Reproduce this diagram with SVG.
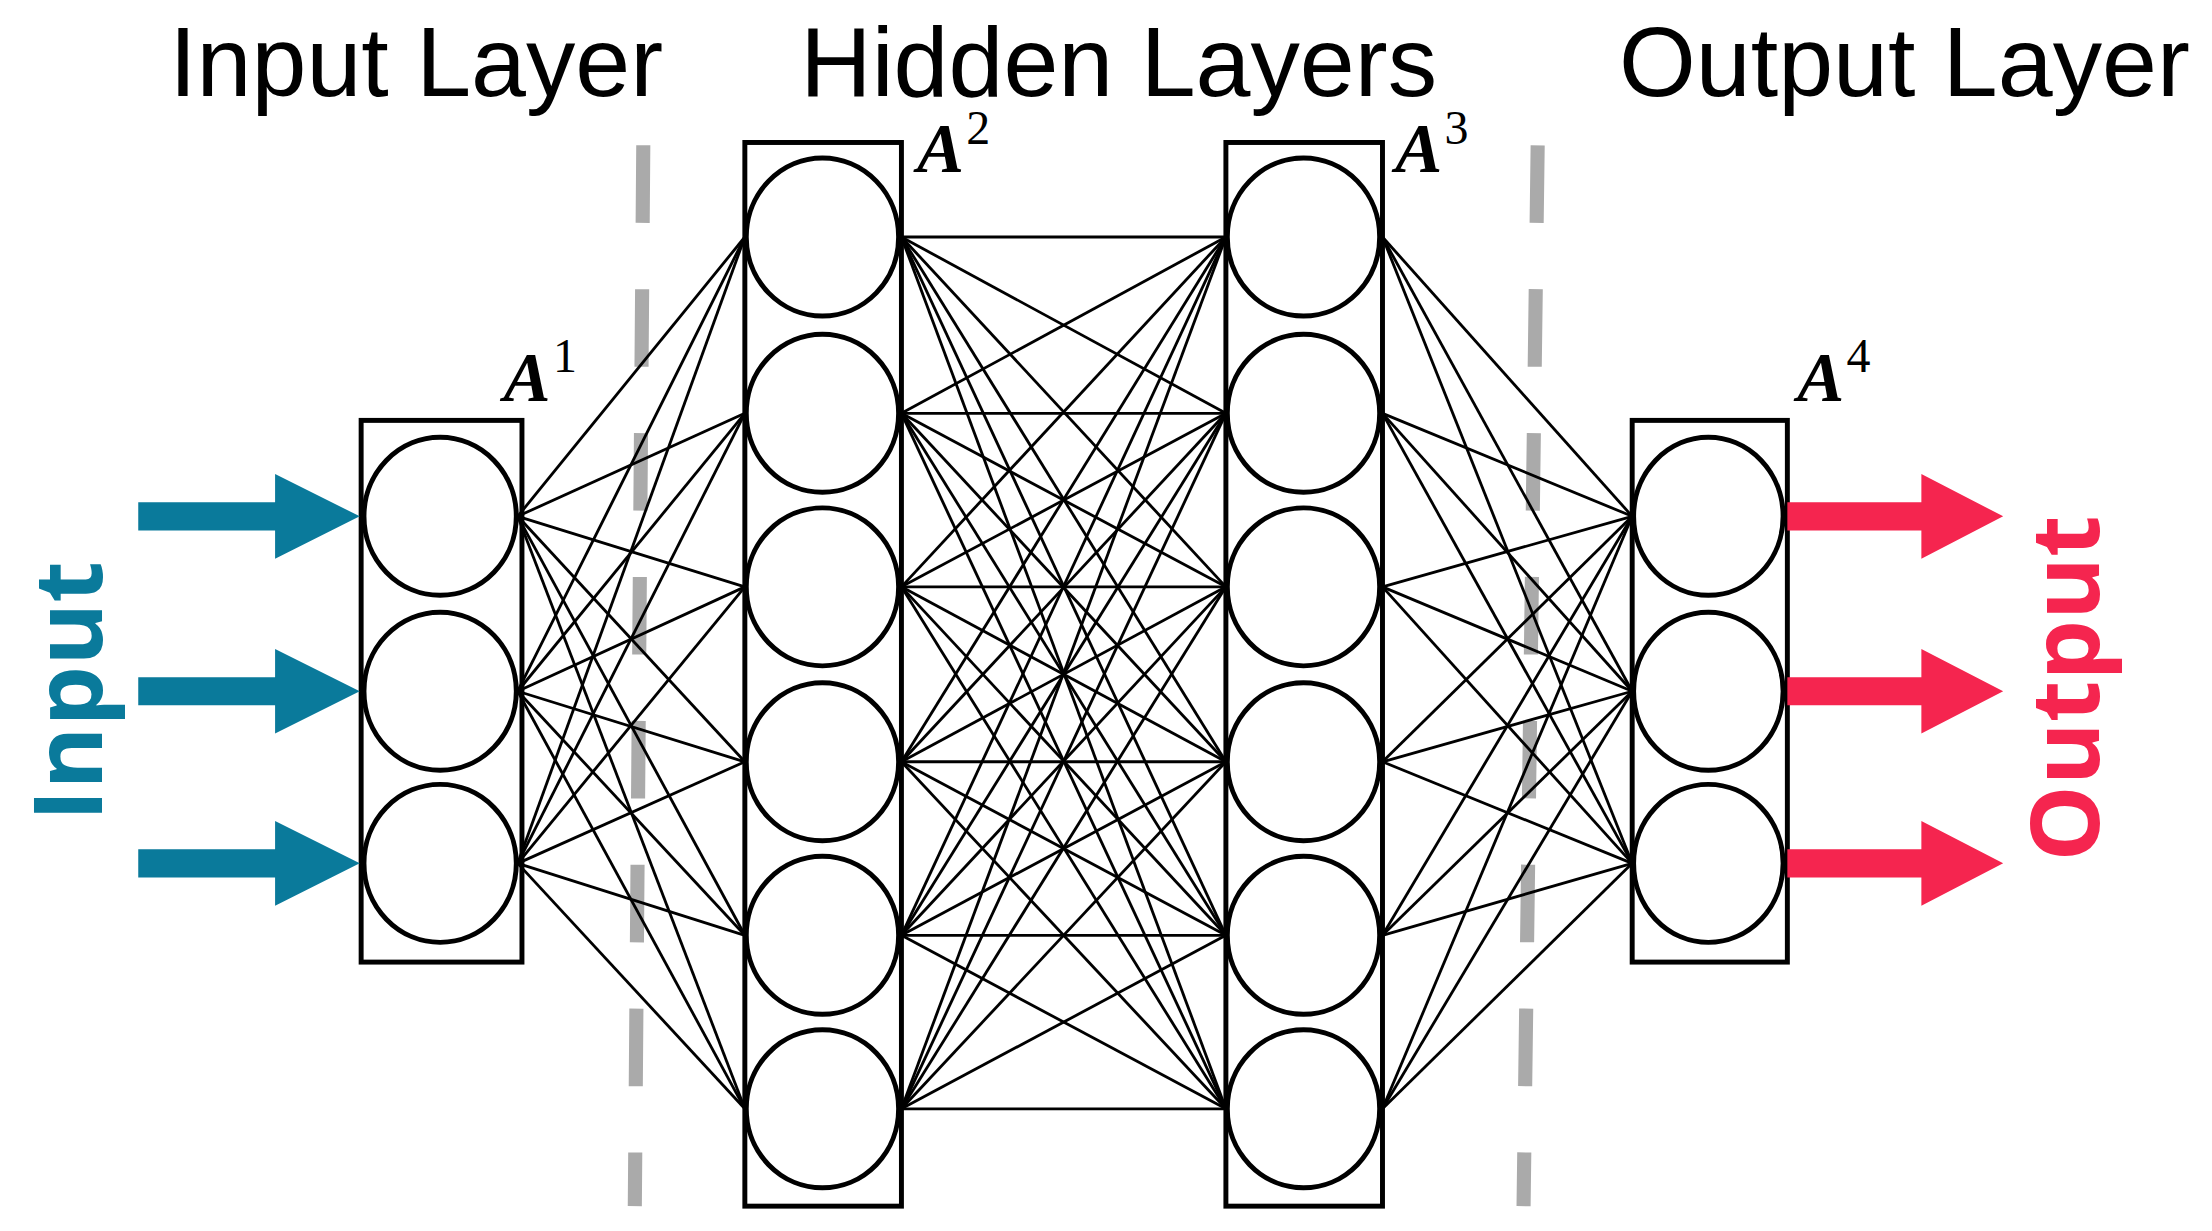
<svg xmlns="http://www.w3.org/2000/svg" width="2212" height="1231" viewBox="0 0 2212 1231">
<style>
.box{fill:none;stroke:#000;stroke-width:3.5}
.n{fill:#fff;stroke:#000;stroke-width:3.5}
.c line{stroke:#000;stroke-width:2}
.t{font-family:"Liberation Sans",Arial,sans-serif;font-size:70px;fill:#000}
.lab{font-family:"Liberation Serif",serif;font-weight:bold;font-style:italic;font-size:50px}
.sup{font-family:"Liberation Serif",serif;font-size:34px}
.dash{stroke:#aaa;stroke-width:10;stroke-dasharray:55 47;fill:none}
.in{fill:#0a7a9b}
.out{fill:#f5254f}
</style>
<rect width="2212" height="1231" fill="#fff"/>
<g transform="scale(1.4107)">
<g id="titles">
<text class="t" x="295" y="68" text-anchor="middle">Input Layer</text>
<text class="t" x="793" y="68" text-anchor="middle">Hidden Layers</text>
<text class="t" x="1350" y="68" text-anchor="middle">Output Layer</text>
</g>
<g id="dividers">
<line class="dash" x1="456" y1="103" x2="450" y2="855"/>
<line class="dash" x1="1090" y1="103" x2="1080" y2="855"/>
</g>
<g class="c" id="connectors">
<g id="c12">
<line x1="367" y1="366" x2="528" y2="168"/><line x1="367" y1="366" x2="528" y2="293"/><line x1="367" y1="366" x2="528" y2="416"/><line x1="367" y1="366" x2="528" y2="540"/><line x1="367" y1="366" x2="528" y2="663"/><line x1="367" y1="366" x2="528" y2="786"/>
<line x1="367" y1="490" x2="528" y2="168"/><line x1="367" y1="490" x2="528" y2="293"/><line x1="367" y1="490" x2="528" y2="416"/><line x1="367" y1="490" x2="528" y2="540"/><line x1="367" y1="490" x2="528" y2="663"/><line x1="367" y1="490" x2="528" y2="786"/>
<line x1="367" y1="612" x2="528" y2="168"/><line x1="367" y1="612" x2="528" y2="293"/><line x1="367" y1="612" x2="528" y2="416"/><line x1="367" y1="612" x2="528" y2="540"/><line x1="367" y1="612" x2="528" y2="663"/><line x1="367" y1="612" x2="528" y2="786"/>
</g>
<g id="c23">
<line x1="639" y1="168" x2="869" y2="168"/><line x1="639" y1="168" x2="869" y2="293"/><line x1="639" y1="168" x2="869" y2="416"/><line x1="639" y1="168" x2="869" y2="540"/><line x1="639" y1="168" x2="869" y2="663"/><line x1="639" y1="168" x2="869" y2="786"/>
<line x1="639" y1="293" x2="869" y2="168"/><line x1="639" y1="293" x2="869" y2="293"/><line x1="639" y1="293" x2="869" y2="416"/><line x1="639" y1="293" x2="869" y2="540"/><line x1="639" y1="293" x2="869" y2="663"/><line x1="639" y1="293" x2="869" y2="786"/>
<line x1="639" y1="416" x2="869" y2="168"/><line x1="639" y1="416" x2="869" y2="293"/><line x1="639" y1="416" x2="869" y2="416"/><line x1="639" y1="416" x2="869" y2="540"/><line x1="639" y1="416" x2="869" y2="663"/><line x1="639" y1="416" x2="869" y2="786"/>
<line x1="639" y1="540" x2="869" y2="168"/><line x1="639" y1="540" x2="869" y2="293"/><line x1="639" y1="540" x2="869" y2="416"/><line x1="639" y1="540" x2="869" y2="540"/><line x1="639" y1="540" x2="869" y2="663"/><line x1="639" y1="540" x2="869" y2="786"/>
<line x1="639" y1="663" x2="869" y2="168"/><line x1="639" y1="663" x2="869" y2="293"/><line x1="639" y1="663" x2="869" y2="416"/><line x1="639" y1="663" x2="869" y2="540"/><line x1="639" y1="663" x2="869" y2="663"/><line x1="639" y1="663" x2="869" y2="786"/>
<line x1="639" y1="786" x2="869" y2="168"/><line x1="639" y1="786" x2="869" y2="293"/><line x1="639" y1="786" x2="869" y2="416"/><line x1="639" y1="786" x2="869" y2="540"/><line x1="639" y1="786" x2="869" y2="663"/><line x1="639" y1="786" x2="869" y2="786"/>
</g>
<g id="c34">
<line x1="980" y1="168" x2="1157" y2="366"/><line x1="980" y1="293" x2="1157" y2="366"/><line x1="980" y1="416" x2="1157" y2="366"/><line x1="980" y1="540" x2="1157" y2="366"/><line x1="980" y1="663" x2="1157" y2="366"/><line x1="980" y1="786" x2="1157" y2="366"/>
<line x1="980" y1="168" x2="1157" y2="490"/><line x1="980" y1="293" x2="1157" y2="490"/><line x1="980" y1="416" x2="1157" y2="490"/><line x1="980" y1="540" x2="1157" y2="490"/><line x1="980" y1="663" x2="1157" y2="490"/><line x1="980" y1="786" x2="1157" y2="490"/>
<line x1="980" y1="168" x2="1157" y2="612"/><line x1="980" y1="293" x2="1157" y2="612"/><line x1="980" y1="416" x2="1157" y2="612"/><line x1="980" y1="540" x2="1157" y2="612"/><line x1="980" y1="663" x2="1157" y2="612"/><line x1="980" y1="786" x2="1157" y2="612"/>
</g>
</g>
<g id="layer1">
<rect class="box" x="256" y="298" width="114" height="384"/>
<ellipse class="n" cx="312" cy="366" rx="54" ry="56"/><ellipse class="n" cx="312" cy="490" rx="54" ry="56"/><ellipse class="n" cx="312" cy="612" rx="54" ry="56"/>
<text class="lab" x="357" y="284">A</text><text class="sup" x="392" y="264">1</text>
</g>
<g id="layer2">
<rect class="box" x="528" y="101" width="111" height="754"/>
<ellipse class="n" cx="583" cy="168" rx="54" ry="56"/><ellipse class="n" cx="583" cy="293" rx="54" ry="56"/><ellipse class="n" cx="583" cy="416" rx="54" ry="56"/><ellipse class="n" cx="583" cy="540" rx="54" ry="56"/><ellipse class="n" cx="583" cy="663" rx="54" ry="56"/><ellipse class="n" cx="583" cy="786" rx="54" ry="56"/>
<text class="lab" x="650" y="122">A</text><text class="sup" x="685" y="102">2</text>
</g>
<g id="layer3">
<rect class="box" x="869" y="101" width="111" height="754"/>
<ellipse class="n" cx="924" cy="168" rx="54" ry="56"/><ellipse class="n" cx="924" cy="293" rx="54" ry="56"/><ellipse class="n" cx="924" cy="416" rx="54" ry="56"/><ellipse class="n" cx="924" cy="540" rx="54" ry="56"/><ellipse class="n" cx="924" cy="663" rx="54" ry="56"/><ellipse class="n" cx="924" cy="786" rx="54" ry="56"/>
<text class="lab" x="989" y="122">A</text><text class="sup" x="1024" y="102">3</text>
</g>
<g id="layer4">
<rect class="box" x="1157" y="298" width="110" height="384"/>
<ellipse class="n" cx="1211" cy="366" rx="53" ry="56"/><ellipse class="n" cx="1211" cy="490" rx="53" ry="56"/><ellipse class="n" cx="1211" cy="612" rx="53" ry="56"/>
<text class="lab" x="1274" y="284">A</text><text class="sup" x="1309" y="264">4</text>
</g>
<g id="input">
<polygon class="in" points="98,356 195,356 195,336 255,366 195,396 195,376 98,376"/>
<polygon class="in" points="98,480 195,480 195,460 255,490 195,520 195,500 98,500"/>
<polygon class="in" points="98,602 195,602 195,582 255,612 195,642 195,622 98,622"/>
<text transform="translate(72,490) rotate(-90)" text-anchor="middle" font-family="Open Sans,sans-serif" font-weight="bold" font-size="68" fill="#0a7a9b">Input</text>
</g>
<g id="output">
<polygon class="out" points="1267,356 1362,356 1362,336 1420,366 1362,396 1362,376 1267,376"/>
<polygon class="out" points="1267,480 1362,480 1362,460 1420,490 1362,520 1362,500 1267,500"/>
<polygon class="out" points="1267,602 1362,602 1362,582 1420,612 1362,642 1362,622 1267,622"/>
<text transform="translate(1488,488) rotate(-90)" text-anchor="middle" font-family="Open Sans,sans-serif" font-weight="bold" font-size="68" fill="#f5254f">Output</text>
</g>
</g>
</svg>
